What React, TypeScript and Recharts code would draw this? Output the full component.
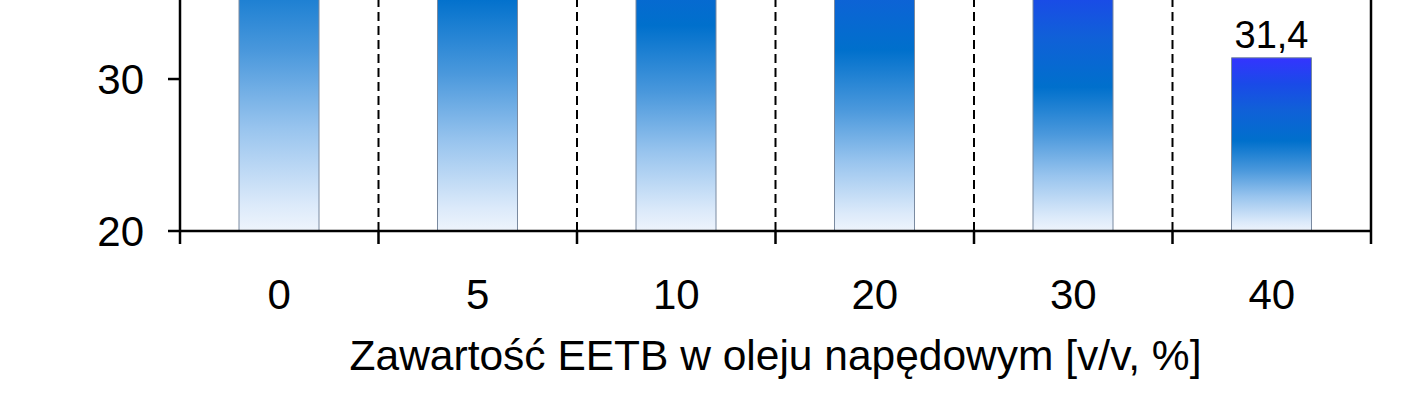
import { BarChart, Bar, XAxis, YAxis, ReferenceLine, LabelList, Label } from "recharts";

// EETB content in diesel fuel [% v/v]
const categories = ["0", "5", "10", "20", "30", "40"];
// values (only the last one is inside the visible crop; others estimated from the gradient)
const values = [53.8, 49.6, 46.0, 42.9, 38.2, 31.4];
const yTicks = [20, 30];
const yDomain = [20, 35.2]; // the picture is cropped just above 35

const FONT = "Arial, 'Liberation Sans', sans-serif";

const chartData = categories.map((name, i) => ({ pos: i, name, value: values[i] }));
// tick positions: boundaries between categories (tick marks) + centres (labels)
const boundaries = categories.map((_, i) => i - 0.5).concat(categories.length - 0.5);
const xTicks = [...boundaries, ...categories.map((_, i) => i)].sort((a, b) => a - b);

const CategoryTick = ({ x, y, payload }: any) => {
    const v = payload.value;
    if (Number.isInteger(v)) {
        return (
            <text x={x} y={y + 78} textAnchor="middle" fontSize={42} fontFamily={FONT} fill="#000">
                {categories[v]}
            </text>
        );
    }
    return <line x1={x} y1={y} x2={x} y2={y + 13} stroke="#000" strokeWidth={2.5} />;
};

// value label above the bar, only when the bar top is inside the crop
const ValueLabel = ({ x, y, width, value }: any) => {
    if (y < 0) return null;
    return (
        <text x={x + width / 2} y={y - 10} textAnchor="middle" fontSize={38} fontFamily={FONT} fill="#000">
            {String(value).replace(".", ",")}
        </text>
    );
};

export default function App() {
    return (
        <div style={{ position: "fixed", top: 0, left: 0, width: 1406, height: 417, overflow: "hidden", background: "#fff" }}>
            <BarChart width={1406} height={417} data={chartData} margin={{ top: 0, right: 35, left: 80, bottom: 86 }}>
                <defs>
                    <linearGradient id="barFill" x1="0" y1="0" x2="0" y2="1">
                        <stop offset="0" stopColor="#3434ff" />
                        <stop offset="0.15" stopColor="#1a4ae8" />
                        <stop offset="0.3" stopColor="#1060d8" />
                        <stop offset="0.48" stopColor="#0070cc" />
                        <stop offset="0.65" stopColor="#4a98dc" />
                        <stop offset="0.8" stopColor="#98c4ee" />
                        <stop offset="0.95" stopColor="#dceafa" />
                        <stop offset="1" stopColor="#eef4fc" />
                    </linearGradient>
                </defs>
                <XAxis
                    dataKey="pos"
                    type="number"
                    domain={[-0.5, categories.length - 0.5]}
                    ticks={xTicks}
                    interval={0}
                    tick={<CategoryTick />}
                    tickLine={false}
                    tickSize={0}
                    tickMargin={0}
                    height={100}
                    axisLine={{ stroke: "#000", strokeWidth: 2.5 }}
                >
                    <Label
                        value="Zawartość EETB w oleju napędowym [v/v, %]"
                        position="bottom"
                        offset={9}
                        fontSize={42.5}
                        fontFamily={FONT}
                        fill="#000"
                    />
                </XAxis>
                <YAxis
                    domain={yDomain}
                    ticks={yTicks}
                    allowDataOverflow
                    width={100}
                    tickSize={12}
                    tickMargin={24}
                    tick={{ fill: "#000", fontSize: 42, fontFamily: FONT }}
                    tickLine={{ stroke: "#000", strokeWidth: 2.5 }}
                    axisLine={{ stroke: "#000", strokeWidth: 2.5 }}
                />
                {boundaries.slice(1, -1).map((b) => (
                    <ReferenceLine key={b} x={b} stroke="#000" strokeWidth={2} strokeDasharray="9 5" />
                ))}
                <ReferenceLine x={boundaries[boundaries.length - 1]} stroke="#000" strokeWidth={2.5} />
                <Bar
                    dataKey="value"
                    barSize={80}
                    fill="url(#barFill)"
                    stroke="#7a8aa0"
                    strokeWidth={1}
                    isAnimationActive={false}
                >
                    <LabelList dataKey="value" content={<ValueLabel />} />
                </Bar>
            </BarChart>
        </div>
    );
}
